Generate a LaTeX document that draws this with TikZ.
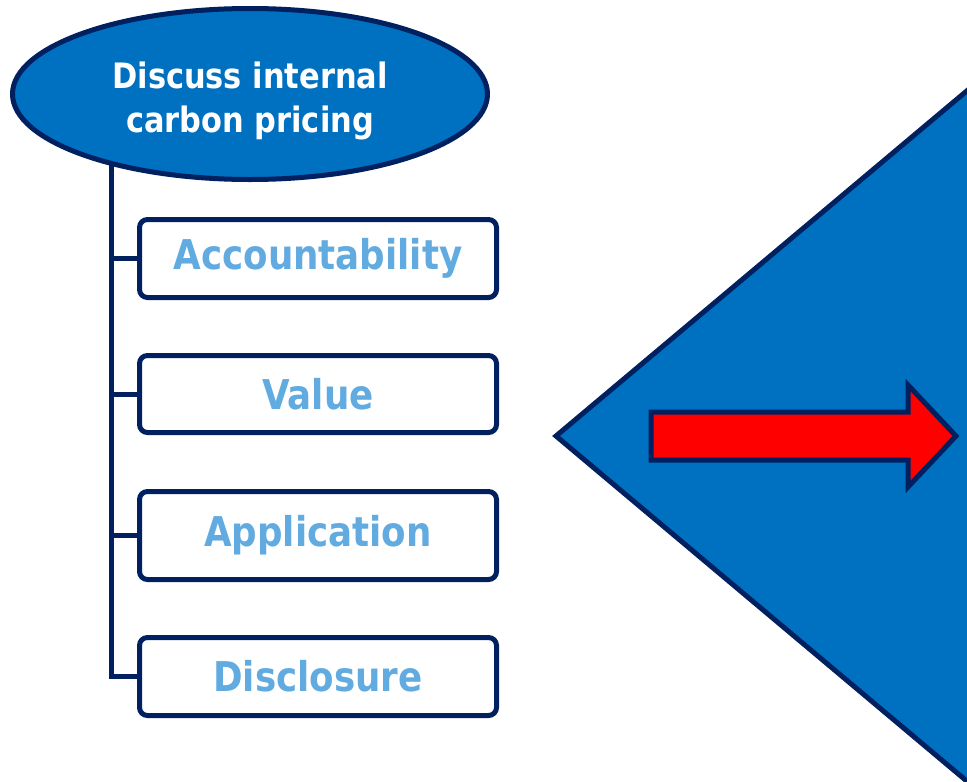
\documentclass[tikz,border=0pt]{standalone}
\usepackage{fontspec}
\setmainfont[FakeStretch=0.87]{DejaVu Sans}
\usetikzlibrary{shapes.geometric}
\definecolor{fillblue}{HTML}{0070C0}
\definecolor{navy}{HTML}{002060}
\definecolor{lightblue}{HTML}{61ABE0}
\definecolor{arrowred}{HTML}{FF0000}
\tikzset{
  itembox/.style={draw=navy, line width=5pt, fill=white, rounded corners=8pt,
    minimum width=357pt, inner sep=0pt, text=lightblue,
    font=\bfseries\fontsize{41}{49}\selectfont},
  rootell/.style={ellipse, draw=navy, line width=5pt, fill=fillblue,
    minimum width=475pt, minimum height=171pt, inner sep=0pt},
  roottxt/.style={text=white, align=center, inner sep=0pt,
    font=\bfseries\fontsize{35}{44}\selectfont},
  treeline/.style={draw=navy, line width=5pt},
  shape outline/.style={draw=navy, line width=5pt, line join=miter}
}
\begin{document}
\begin{tikzpicture}[x=1pt,y=-1pt]
\useasboundingbox (0,0) rectangle (967,782);
\clip (0,0) rectangle (967,782);
% big triangle
\coordinate (tip) at (556,436);
\coordinate (ttop) at (1100,-21);
\coordinate (tbot) at (1100,893);
\fill[fillblue] (tip) -- (ttop) -- (tbot) -- cycle;
\draw[shape outline] (ttop) -- (tip) -- (tbot);
% red arrow
\filldraw[fill=arrowred, shape outline]
  (651,412) -- (908,412) -- (908,385) -- (956,436) -- (908,487) -- (908,460) -- (651,460) -- cycle;
% boxes
\node[itembox, minimum height=78pt] (b1) at (318,258.5) {Accountability};
\node[itembox, minimum height=77pt] (b2) at (318,394) {Value};
\node[itembox, minimum height=88pt] (b3) at (318,535.5) {Application};
\node[itembox, minimum height=78pt] (b4) at (318,676.5) {Disclosure};
% tree lines
\coordinate (spine) at (111,150);
\draw[treeline, line join=miter] (spine) |- (b4.west);
\draw[treeline] (b1.west -| spine) -- (b1.west);
\draw[treeline] (b2.west -| spine) -- (b2.west);
\draw[treeline] (b3.west -| spine) -- (b3.west);
% root ellipse
\node[rootell] (root) at (250,94) {};
\node[roottxt] (rootlabel) at (250,101) {Discuss internal\\carbon pricing};
\end{tikzpicture}
\end{document}
